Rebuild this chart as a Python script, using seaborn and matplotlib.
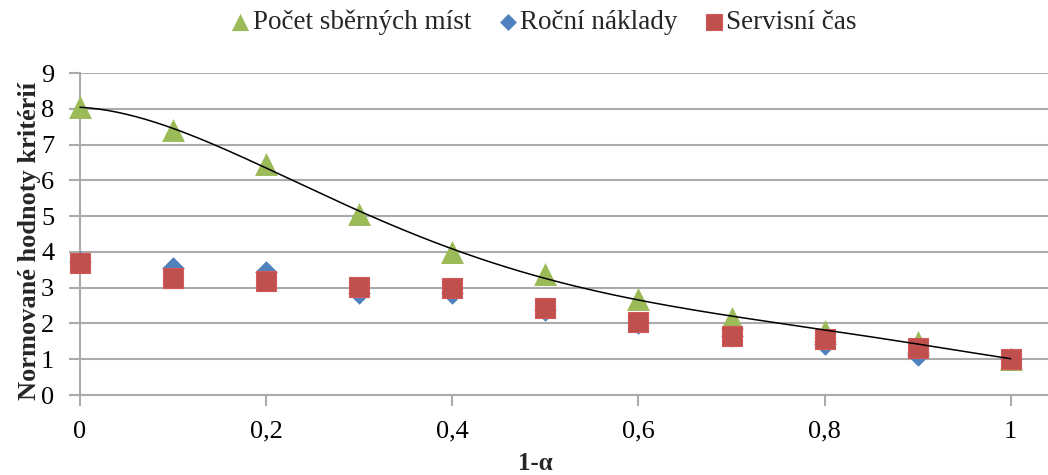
import numpy as np
import pandas as pd
import matplotlib
matplotlib.use("Agg")
import matplotlib.pyplot as plt
import seaborn as sns

# ---- data ----
x_vals = [0.0, 0.1, 0.2, 0.3, 0.4, 0.5, 0.6, 0.7, 0.8, 0.9, 1.0]
pocet_mist = [8.05, 7.40, 6.46, 5.07, 4.00, 3.37, 2.67, 2.16, 1.79, 1.47, 1.00]
rocni_naklady = [3.72, 3.55, 3.43, 2.85, 2.85, 2.38, 2.00, 1.64, 1.42, 1.12, 1.00]
servisni_cas = [3.68, 3.27, 3.20, 3.02, 2.98, 2.44, 2.04, 1.65, 1.57, 1.32, 1.00]
series_names = ["Počet sběrných míst", "Roční náklady", "Servisní čas"]
x_ticks = [0, 0.2, 0.4, 0.6, 0.8, 1.0]
x_tick_labels = ["0", "0,2", "0,4", "0,6", "0,8", "1"]
y_ticks = list(range(0, 10))
x_label = "1-α"
y_label = "Normované hodnoty kritérií"

sns.set_theme(style="white")
plt.rcParams["font.family"] = ["Liberation Serif", "DejaVu Serif"]

fig = plt.figure(figsize=(10.48, 4.75), dpi=100)
ax = fig.add_axes([80 / 1048, 1 - 395 / 475, 1 - 80 / 1048, (395 - 73) / 475])

green = "#9BBB59"
blue = "#4F81BD"
red = "#C0504D"

df_g = pd.DataFrame({"x": x_vals, "y": pocet_mist})
df_b = pd.DataFrame({"x": x_vals, "y": rocni_naklady})
df_r = pd.DataFrame({"x": x_vals, "y": servisni_cas})

sns.scatterplot(data=df_g, x="x", y="y", marker="^", s=16.5 ** 2, color=green,
                linewidth=0, ax=ax, label=series_names[0], zorder=3, clip_on=False)
sns.scatterplot(data=df_b, x="x", y="y", marker="D", s=11.5 ** 2, color=blue,
                linewidth=0, ax=ax, label=series_names[1], zorder=4, clip_on=False)
sns.scatterplot(data=df_r, x="x", y="y", marker="s", s=15 ** 2, color=red,
                edgecolor="#D4585A", linewidth=0.8, ax=ax, label=series_names[2], zorder=5,
                clip_on=False)

# polynomial trend line of the first series
xs = np.linspace(0, 1, 200)
coef = np.polyfit(x_vals, pocet_mist, 5)
ax.plot(xs, np.polyval(coef, xs), color="black", lw=1.1, zorder=6, clip_on=False)

ax.set_xlim(0, 1.04)
ax.set_ylim(0, 9)
ax.set_xticks(x_ticks)
ax.set_xticklabels(x_tick_labels)
ax.set_yticks(y_ticks)

grid_c = "#ABABAB"
ax.yaxis.grid(True, color=grid_c, lw=1.5)
ax.xaxis.grid(False)
for side in ["top", "right"]:
    ax.spines[side].set_visible(False)
for side in ["left", "bottom"]:
    ax.spines[side].set_color(grid_c)
    ax.spines[side].set_linewidth(1.5)
ax.tick_params(axis="both", which="major", direction="out", length=8, width=1.5,
               color=grid_c, labelsize=19, labelcolor="black", pad=10.5)
ax.yaxis.set_ticks_position("left")
ax.xaxis.set_ticks_position("bottom")

ax.set_xlabel(x_label, fontsize=18, fontweight="bold")
ax.set_ylabel(y_label, fontsize=19, fontweight="bold")
ax.xaxis.label.set_va("center")
ax.yaxis.label.set_va("center")
ax.xaxis.set_label_coords((535 - 80) / 968, -(464 - 395) / 322)
ax.yaxis.set_label_coords(-(80 - 30) / 968, (395 - 241) / 322)

handles, labels = ax.get_legend_handles_labels()
if ax.legend_:
    ax.legend_.remove()
fig.legend(handles, labels, loc="center", bbox_to_anchor=(543 / 1048, 1 - 22 / 475),
           ncol=3, frameon=False, fontsize=19.5, handletextpad=0.05, handlelength=0.8,
           columnspacing=0.95, markerscale=0.75)

fig.savefig("out.png", dpi=100)
